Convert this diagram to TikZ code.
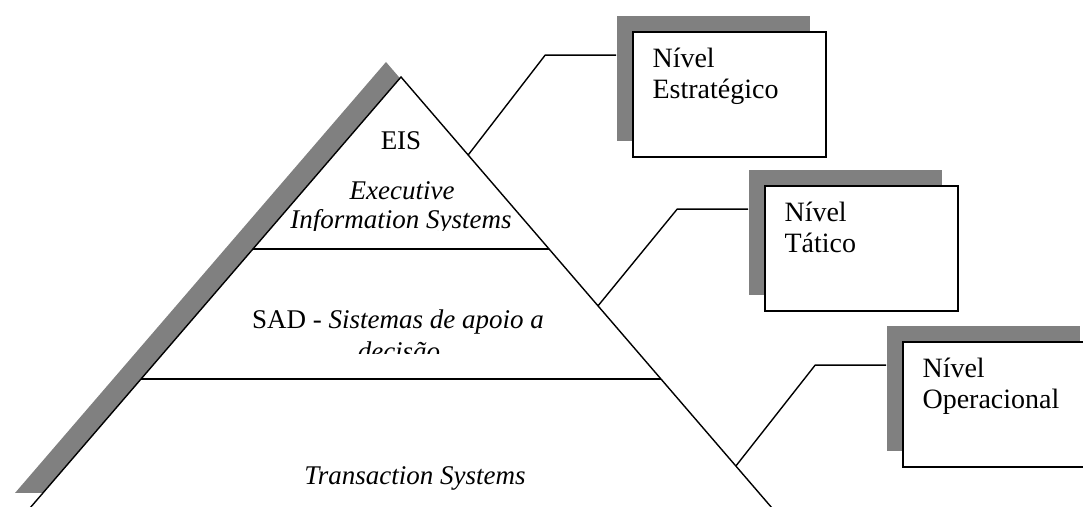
\documentclass[tikz,border=0pt]{standalone}
\usepackage{fontspec}
\setmainfont{Liberation Serif}
\usetikzlibrary{calc,shadows,positioning}

\tikzset{
  boxshadow/.style={general shadow={fill=gray,shadow xshift=-8pt,shadow yshift=8pt}},
  lvlbox/.style={draw,fill=white,line width=0.85pt,minimum width=96.5pt,
    minimum height=62.5pt,inner sep=0pt,boxshadow},
  lvltext/.style={anchor=base west,align=left,inner sep=0pt,
    font=\fontsize{14}{15.5}\selectfont},
  pyrtext/.style={anchor=base,inner sep=0pt,font=\fontsize{13.5}{14.5}\selectfont},
  link/.style={line width=0.7pt},
}

\begin{document}
\begin{tikzpicture}[x=0.5pt,y=-0.5pt]
\useasboundingbox (0,0) rectangle (1083,507);
\clip (0,0) rectangle (1083,507);

% pyramid
\coordinate (apex) at (401,77);
\coordinate (bl) at (30,508);
\coordinate (br) at (772,508);
\draw[link,fill=white,general shadow={fill=gray,shadow xshift=-7.5pt,shadow yshift=7.5pt}]
  (apex) -- (bl) -- (br) -- cycle;

\draw[link] ($(apex)!0.399!(bl)$) -- ($(apex)!0.399!(br)$);
\draw[link] ($(apex)!0.7007!(bl)$) -- ($(apex)!0.7007!(br)$);

\node[pyrtext] (eis) at (401,150) {EIS};
\node[pyrtext] (exec) at (402,200) {\itshape Executive};
\begin{scope}
  \clip (200,150) rectangle (600,231);
  \node[pyrtext] (info) at (401,229) {\itshape Information Systems};
\end{scope}
\node[pyrtext] (sad) at (398,329) {SAD - \textit{Sistemas de apoio a}};
\begin{scope}
  \clip (200,300) rectangle (600,354);
  \node[pyrtext] (dec) at (399,361) {\itshape decisão};
\end{scope}
\node[pyrtext] (trans) at (415,485) {\itshape Transaction Systems};

% level boxes
\node[lvlbox] (strat) at (729.5,94.5) {};
\node[lvlbox] (tact) at (861.5,248.5) {};
\node[lvlbox] (oper) at (999.5,404.5) {};

\node[lvltext] (strattxt) at ($(strat.north west)+(20,67)$) {Nível\\Estratégico};
\node[lvltext] (tacttxt) at ($(tact.north west)+(20,67)$) {Nível\\Tático};
\node[lvltext] (opertxt) at ($(oper.north west)+(20,67)$) {Nível\\Operacional};

% connectors
\coordinate (s1) at ($(apex)!0.181!(br)$);
\coordinate (s2) at ($(apex)!0.531!(br)$);
\coordinate (s3) at ($(apex)!0.9026!(br)$);
\draw[link] (s1) -- ($(strat.north west)+(-87,24)$) -- ($(strat.north west)+(-16,24)$);
\draw[link] (s2) -- ($(tact.north west)+(-87,24)$) -- ($(tact.north west)+(-16,24)$);
\draw[link] (s3) -- ($(oper.north west)+(-87,24)$) -- ($(oper.north west)+(-16,24)$);

\end{tikzpicture}
\end{document}
